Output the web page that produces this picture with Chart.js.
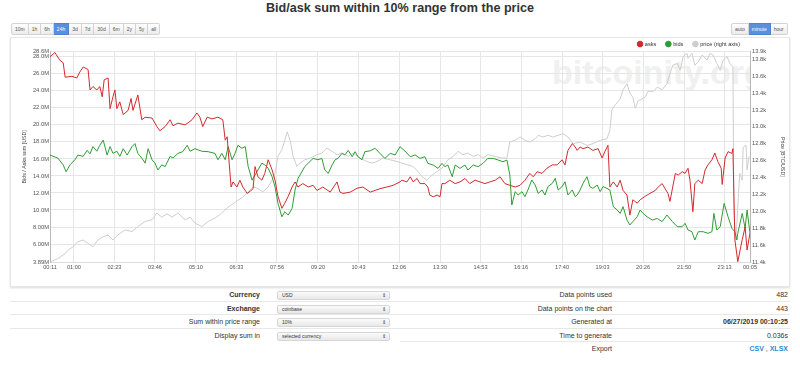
<!DOCTYPE html>
<html lang="en">
<head>
<meta charset="UTF-8">
<title>Bid/ask sum within 10% range from the price</title>
<script src="https://cdn.jsdelivr.net/npm/chart.js"></script>
<style>
    body {
        margin: 0;
        width: 800px;
        height: 366px;
        position: relative;
        overflow: hidden;
        background: #fff;
        color: #333;
        font-family: "Liberation Sans", Arial, sans-serif;
    }
    h1 {
        position: absolute;
        left: 0; top: 1px;
        width: 800px;
        margin: 0;
        text-align: center;
        font-size: 12.6px;
        line-height: 15px;
        color: #333;
    }
    .btns { position: absolute; top: 23px; height: 12px; display: flex; }
    .btns span {
        font-size: 5px; line-height: 10px; padding: 0 3px;
        border: 1px solid #d3d3d3; border-left: none;
        background: linear-gradient(#ffffff, #ebebeb); color: #555;
    }
    .btns span:first-child { border-left: 1px solid #d3d3d3; border-radius: 2px 0 0 2px; }
    .btns span:last-child { border-radius: 0 2px 2px 0; }
    .btns span.on { background: #5a8ede; color: #fff; border-color: #4f83d2; }
    .box {
        position: absolute; left: 10px; top: 37px;
        width: 778px; height: 248px;
        border: 1px solid #e6e6e6;
        box-shadow: 0 1px 2px rgba(0,0,0,0.15);
    }
    .mark { position: absolute; left: 50px; top: 52px; width: 700px; height: 60px; overflow: hidden; }
    .mark span {
        position: absolute; left: 502px; top: 3px;
        font-weight: bold; font-size: 34px; line-height: 34px;
        color: #f0f0f0; white-space: nowrap;
    }
    #wrap { position: absolute; left: 0; top: 20px; width: 800px; height: 262px; }
    .tbl { position: absolute; top: 288px; width: 390px; font-size: 7px; }
    .row { position: relative; height: 12.5px; border-top: 1px solid #e8e8e8; }
    .row:first-child { border-top: none; }
    .lab { position: absolute; top: 0; line-height: 13px; text-align: right; white-space: nowrap; }
    .b { font-weight: bold; }
    .sel {
        position: absolute; left: 267px; top: 3px; width: 107px; height: 7px;
        padding-left: 4px; border: 1px solid #d6d6d6; border-radius: 2px;
        background: linear-gradient(#fbfbfb, #e8e8e8);
        font-size: 5px; line-height: 7px; color: #333;
    }
    .sel i { position: absolute; right: 3px; top: 0; font-style: normal; font-size: 5px; }
    .val { position: absolute; right: 2px; top: 0; line-height: 13px; }
    a { color: #2b8ccf; text-decoration: none; font-weight: bold; }
</style>
</head>
<body>

<h1>Bid/ask sum within 10% range from the price</h1>

<div class="box"></div>
<div class="mark"><span>bitcoinity.org</span></div>

<div class="btns" style="left:11px">
    <span>10m</span><span>1h</span><span>6h</span><span class="on">24h</span><span>3d</span><span>7d</span><span>30d</span><span>6m</span><span>2y</span><span>5y</span><span>all</span>
</div>
<div class="btns" style="left:731px">
    <span>auto</span><span class="on">minute</span><span>hour</span>
</div>

<div id="wrap"><canvas id="chart"></canvas></div>

<div class="tbl" style="left:10px">
    <div class="row"><div class="lab b" style="right:140px">Currency</div><div class="sel">USD<i>⇕</i></div></div>
    <div class="row"><div class="lab b" style="right:140px">Exchange</div><div class="sel">coinbase<i>⇕</i></div></div>
    <div class="row"><div class="lab" style="right:140px">Sum within price range</div><div class="sel">10%<i>⇕</i></div></div>
    <div class="row"><div class="lab" style="right:140px">Display sum in</div><div class="sel">selected currency<i>⇕</i></div></div>
</div>

<div class="tbl" style="left:400px">
    <div class="row"><div class="lab" style="right:178px">Data points used</div><div class="val">482</div></div>
    <div class="row"><div class="lab" style="right:178px">Data points on the chart</div><div class="val">443</div></div>
    <div class="row"><div class="lab" style="right:178px">Generated at</div><div class="val b">06/27/2019 00:10:25</div></div>
    <div class="row"><div class="lab" style="right:178px">Time to generate</div><div class="val">0.036s</div></div>
    <div class="row"><div class="lab" style="right:178px">Export</div><div class="val"><a>CSV</a> , <a>XLSX</a></div></div>
</div>

<script>
// x axis labels, times are minutes after 00:11
const timeLabels = ['00:11', '01:00', '02:23', '03:46', '05:10', '06:33', '07:56', '09:20', '10:43', '12:06',
    '13:30', '14:53', '16:16', '17:40', '19:03', '20:26', '21:50', '23:13', '00:05'];
const leftTicks = [3.89, 6, 8, 10, 12, 14, 16, 18, 20, 22, 24, 26, 28, 28.6];       // millions USD
const rightTicks = [11.4, 11.6, 11.8, 12.0, 12.2, 12.4, 12.6, 12.8, 13.0, 13.2, 13.4, 13.6, 13.8, 13.89]; // thousands

// asks (millions USD)
const askTimes = [0, 10, 20, 27, 31, 45, 55, 61, 68, 78,
    82, 88, 96, 102, 107, 111, 119, 123, 129, 133,
    137, 143, 150, 160, 166, 170, 180, 188, 195, 209,
    219, 225, 236, 246, 252, 262, 277, 291, 301, 307,
    313, 322, 332, 344, 354, 359, 363, 365, 371, 375,
    383, 389, 395, 404, 410, 416, 420, 426, 434, 440,
    447, 455, 461, 467, 475, 481, 488, 496, 502, 508,
    518, 529, 539, 547, 559, 574, 588, 594, 600, 615,
    629, 641, 656, 676, 690, 703, 717, 721, 731, 738,
    744, 752, 758, 768, 774, 778, 785, 793, 799, 803,
    809, 819, 830, 840, 850, 860, 871, 881, 891, 901,
    912, 922, 932, 942, 953, 963, 973, 983, 990, 998,
    1008, 1018, 1029, 1039, 1049, 1055, 1061, 1070, 1076, 1080,
    1086, 1092, 1102, 1112, 1123, 1131, 1137, 1143, 1147, 1154,
    1162, 1168, 1174, 1182, 1188, 1194, 1203, 1209, 1219, 1229,
    1240, 1246, 1254, 1260, 1266, 1270, 1281, 1287, 1295, 1301,
    1307, 1311, 1317, 1321, 1328, 1336, 1342, 1348, 1356, 1362,
    1368, 1375, 1377, 1383, 1389, 1397, 1399, 1403, 1409, 1418,
    1424, 1428, 1434];
const askValues = [28.0, 28.5, 27.6, 27.3, 25.6, 25.7, 25.5, 26.2, 26.8, 26.5,
    24.1, 24.5, 24.1, 24.5, 23.3, 25.3, 25.5, 21.9, 23.3, 24.1,
    21.9, 22.7, 21.2, 21.7, 23.1, 21.7, 23.5, 20.6, 20.9, 20.8,
    19.8, 19.3, 19.8, 20.6, 19.9, 20.2, 20.0, 20.6, 21.4, 20.9,
    19.8, 20.9, 20.7, 20.9, 20.6, 18.2, 18.6, 17.0, 12.7, 13.3,
    12.7, 13.5, 12.7, 11.95, 12.2, 12.5, 15.1, 13.9, 13.5, 14.3,
    15.9, 14.7, 13.5, 11.6, 10.2, 10.8, 11.6, 12.7, 13.3, 12.7,
    13.1, 12.7, 12.9, 12.3, 12.7, 12.1, 13.3, 12.1, 11.95, 12.1,
    12.55, 12.7, 12.1, 12.5, 12.7, 12.9, 13.3, 13.5, 13.3, 13.9,
    13.3, 13.7, 13.1, 13.1, 12.7, 11.75, 11.55, 11.75, 11.55, 13.1,
    13.1, 13.5, 13.1, 13.3, 13.7, 13.1, 13.5, 13.3, 13.1, 13.3,
    13.5, 13.9, 13.1, 12.9, 12.7, 12.9, 13.5, 14.3, 13.9, 14.5,
    14.3, 14.9, 15.3, 15.3, 15.9, 15.3, 17.0, 17.8, 17.4, 17.0,
    17.4, 17.2, 17.4, 17.0, 17.2, 16.1, 16.9, 17.6, 12.7, 13.3,
    12.7, 13.5, 12.3, 11.75, 9.4, 11.2, 10.8, 11.2, 11.6, 11.95,
    12.3, 12.7, 13.1, 12.5, 11.95, 11.0, 14.3, 14.1, 14.5, 14.3,
    14.9, 13.5, 9.8, 13.1, 13.5, 13.1, 14.7, 15.3, 15.9, 16.7,
    15.7, 14.9, 13.0, 16.1, 16.85, 16.65, 17.2, 6.5, 3.93, 6.5,
    8.0, 5.3, 7.3];

// bids (millions USD)
const bidTimes = [0, 16, 27, 33, 41, 51, 57, 68, 76, 82,
    88, 96, 102, 109, 117, 123, 129, 137, 143, 150,
    158, 168, 174, 180, 188, 195, 201, 209, 215, 221,
    229, 236, 246, 252, 262, 272, 281, 287, 297, 311,
    324, 338, 344, 352, 359, 365, 373, 379, 385, 393,
    400, 406, 414, 420, 426, 434, 440, 447, 455, 461,
    467, 475, 481, 488, 496, 502, 508, 516, 522, 529,
    539, 549, 557, 563, 570, 578, 584, 590, 598, 604,
    611, 619, 625, 631, 639, 645, 656, 666, 676, 686,
    697, 707, 717, 727, 738, 748, 758, 768, 774, 785,
    795, 803, 809, 815, 824, 830, 840, 850, 856, 867,
    877, 887, 897, 908, 918, 928, 936, 942, 946, 953,
    959, 967, 973, 979, 987, 994, 1000, 1008, 1014, 1020,
    1029, 1035, 1041, 1049, 1055, 1061, 1070, 1076, 1080, 1086,
    1092, 1100, 1106, 1112, 1121, 1127, 1133, 1141, 1147, 1154,
    1162, 1168, 1174, 1182, 1188, 1194, 1203, 1209, 1215, 1223,
    1234, 1244, 1254, 1264, 1275, 1285, 1295, 1301, 1307, 1315,
    1321, 1328, 1338, 1348, 1356, 1360, 1366, 1373, 1381, 1389,
    1397, 1403, 1407, 1409, 1418, 1424, 1428, 1434];
const bidValues = [16.45, 16.1, 15.3, 14.5, 15.3, 15.9, 16.45, 16.3, 17.0, 16.6,
    17.45, 16.9, 17.6, 18.2, 16.45, 17.45, 16.65, 16.9, 16.3, 17.2,
    16.45, 17.45, 17.8, 16.65, 16.1, 15.5, 17.2, 15.9, 15.5, 14.7,
    15.3, 15.1, 16.3, 16.1, 16.65, 16.85, 17.6, 16.9, 17.2, 16.9,
    16.85, 16.65, 15.9, 16.65, 15.9, 17.45, 15.9, 16.65, 17.6, 17.25,
    17.45, 15.1, 13.5, 14.1, 14.7, 15.5, 15.3, 14.9, 13.9, 12.7,
    10.8, 9.2, 9.8, 9.4, 10.2, 12.35, 13.7, 14.5, 15.1, 15.5,
    16.06, 15.9, 16.06, 14.7, 14.3, 15.3, 15.9, 16.06, 16.65, 16.46,
    17.0, 16.26, 16.85, 16.26, 15.9, 16.85, 16.95, 17.25, 16.65, 16.06,
    16.65, 16.46, 17.43, 16.93, 16.26, 16.46, 16.06, 16.26, 15.48, 15.28,
    14.89, 15.48, 15.09, 15.28, 13.91, 15.28, 14.89, 15.28, 14.69, 15.28,
    15.09, 15.48, 16.06, 16.06, 15.87, 15.67, 15.87, 14.11, 10.58, 12.15,
    11.76, 12.15, 11.56, 12.35, 13.52, 12.93, 11.95, 12.35, 11.76, 12.74,
    13.13, 13.72, 12.35, 12.74, 13.32, 11.76, 12.35, 11.56, 11.76, 12.35,
    13.13, 13.91, 12.74, 12.54, 12.93, 12.15, 12.74, 12.54, 12.35, 10.39,
    10.0, 9.6, 10.39, 8.82, 8.24, 8.63, 9.21, 10.0, 9.6, 9.21,
    8.82, 9.0, 8.63, 9.41, 8.63, 8.04, 8.04, 8.43, 7.65, 7.45,
    6.47, 7.45, 7.45, 7.26, 7.45, 9.6, 7.65, 8.04, 10.78, 9.21,
    7.84, 7.45, 6.47, 7.26, 9.6, 7.84, 10.0, 7.26];

// price (thousands USD per BTC)
const priceTimes = [0, 16, 31, 37, 47, 57, 68, 78, 88, 98,
    109, 119, 129, 139, 154, 168, 180, 195, 209, 219,
    229, 240, 250, 262, 277, 287, 297, 311, 324, 338,
    348, 363, 375, 385, 395, 406, 416, 426, 436, 447,
    455, 461, 467, 475, 481, 486, 492, 498, 506, 512,
    522, 533, 547, 557, 567, 578, 588, 598, 611, 621,
    635, 649, 660, 670, 682, 697, 711, 721, 733, 744,
    754, 762, 772, 783, 793, 803, 815, 826, 836, 846,
    856, 867, 877, 887, 897, 912, 926, 936, 942, 953,
    963, 973, 983, 994, 1000, 1010, 1020, 1030, 1041, 1051,
    1061, 1072, 1086, 1100, 1112, 1127, 1141, 1147, 1151, 1158,
    1168, 1174, 1182, 1188, 1194, 1199, 1205, 1213, 1219, 1225,
    1236, 1244, 1254, 1264, 1270, 1276, 1285, 1291, 1297, 1305,
    1307, 1315, 1321, 1328, 1336, 1346, 1352, 1358, 1366, 1373,
    1379, 1387, 1393, 1399, 1401, 1405, 1409, 1413, 1418, 1420,
    1426, 1428, 1432];
const priceValues = [11.40, 11.44, 11.50, 11.54, 11.58, 11.64, 11.66, 11.62, 11.58, 11.66,
    11.70, 11.72, 11.66, 11.72, 11.78, 11.76, 11.82, 11.88, 11.90, 11.98,
    11.93, 11.97, 11.93, 11.98, 11.90, 11.93, 11.86, 11.82, 11.88, 11.92,
    11.96, 12.04, 12.09, 12.13, 12.17, 12.23, 12.29, 12.27, 12.23, 12.29,
    12.37, 12.45, 12.65, 12.73, 12.84, 12.94, 12.84, 12.65, 12.53, 12.57,
    12.61, 12.63, 12.67, 12.69, 12.75, 12.71, 12.67, 12.69, 12.65, 12.69,
    12.63, 12.59, 12.57, 12.59, 12.63, 12.61, 12.59, 12.57, 12.55, 12.53,
    12.47, 12.41, 12.37, 12.43, 12.47, 12.51, 12.61, 12.65, 12.71, 12.67,
    12.69, 12.65, 12.67, 12.63, 12.67, 12.65, 12.63, 12.63, 12.82, 12.84,
    12.88, 12.84, 12.82, 12.86, 12.90, 12.88, 12.90, 12.88, 12.90, 12.92,
    12.88, 12.80, 12.82, 12.78, 12.80, 12.84, 12.86, 12.96, 13.20, 13.26,
    13.33, 13.44, 13.51, 13.40, 13.35, 13.22, 13.31, 13.33, 13.35, 13.42,
    13.42, 13.47, 13.44, 13.51, 13.63, 13.73, 13.75, 13.67, 13.83, 13.87,
    13.81, 13.87, 13.73, 13.77, 13.85, 13.79, 13.87, 13.85, 13.75, 13.67,
    13.79, 13.83, 13.75, 13.71, 11.98, 11.66, 12.05, 12.45, 12.37, 12.76,
    12.78, 12.49, 12.65];

function toMinutes(label, i) {
    const [h, m] = label.split(':').map(Number);
    let v = h * 60 + m - 11;
    if (i > 0 && v <= 0) v += 1440;
    return v;
}
const timeTicks = timeLabels.map(toMinutes);

function points(times, values) {
    return times.map((t, i) => ({ x: t, y: values[i] }));
}

// legend sits in a thin strip above the plot
const legendStrip = {
    id: 'legendStrip',
    afterInit(chart) {
        const legend = chart.legend;
        const fit = legend.fit;
        legend.fit = function () { fit.call(this); this.height = 20.4; };
    }
};

Chart.defaults.font.family = '"Liberation Sans", Arial, sans-serif';
Chart.defaults.color = '#555';

const ctx = document.getElementById('chart').getContext('2d');
new Chart(ctx, {
    type: 'line',
    data: {
        datasets: [
            { label: 'asks', data: points(askTimes, askValues), borderColor: '#d32a2e', backgroundColor: '#d32a2e', yAxisID: 'y' },
            { label: 'bids', data: points(bidTimes, bidValues), borderColor: '#2f9d35', backgroundColor: '#2f9d35', yAxisID: 'y' },
            { label: 'price (right axis)', data: points(priceTimes, priceValues), borderColor: '#cecece', backgroundColor: '#cecece', yAxisID: 'y1' }
        ]
    },
    options: {
        responsive: true,
        maintainAspectRatio: false,
        animation: false,
        layout: { padding: { top: 11.25, left: 0, right: 0, bottom: 0 } },
        elements: {
            line: { borderWidth: 1, tension: 0 },
            point: { radius: 0 }
        },
        plugins: {
            tooltip: { enabled: false },
            legend: {
                position: 'top',
                align: 'end',
                fullSize: false,
                labels: {
                    usePointStyle: true,
                    pointStyle: 'circle',
                    boxWidth: 4,
                    boxHeight: 4,
                    padding: 10,
                    color: '#333',
                    font: { size: 5.6 }
                }
            }
        },
        scales: {
            x: {
                type: 'linear',
                min: 0,
                max: 1434,
                afterBuildTicks: axis => { axis.ticks = timeTicks.map(v => ({ value: v })); },
                afterFit: axis => { axis.height = 20; },
                ticks: {
                    autoSkip: false,
                    maxRotation: 0,
                    padding: 2,
                    font: { size: 5.6 },
                    callback: (value, index) => timeLabels[index]
                },
                grid: { color: '#e6e6e6', drawTicks: false },
                border: { color: '#dcdcdc' }
            },
            y: {
                position: 'left',
                min: 3.89,
                max: 28.6,
                afterBuildTicks: axis => { axis.ticks = leftTicks.map(v => ({ value: v })); },
                afterFit: axis => { axis.width = 50; },
                ticks: {
                    autoSkip: false,
                    padding: 1,
                    font: { size: 5.8 },
                    callback: value => value.toPrecision(3) + 'M'
                },
                grid: { color: '#e6e6e6', drawTicks: false },
                border: { color: '#b8b8b8' },
                title: {
                    display: true,
                    text: 'Bids / Asks sum [USD]',
                    color: '#444',
                    font: { size: 5.3 },
                    padding: { top: 21.7, bottom: 0 }
                }
            },
            y1: {
                position: 'right',
                min: 11.4,
                max: 13.89,
                afterBuildTicks: axis => { axis.ticks = rightTicks.map(v => ({ value: v })); },
                afterFit: axis => { axis.width = 50; },
                ticks: {
                    autoSkip: false,
                    padding: 2,
                    font: { size: 5.8 },
                    callback: value => value.toFixed(1) + 'k'
                },
                grid: { drawOnChartArea: false, drawTicks: false },
                border: { color: '#b8b8b8' },
                title: {
                    display: true,
                    text: 'Price [BTC/USD]',
                    color: '#444',
                    font: { size: 5.3 },
                    padding: { top: 14.7, bottom: 0 }
                }
            }
        }
    },
    plugins: [legendStrip]
});
</script>

</body>
</html>
